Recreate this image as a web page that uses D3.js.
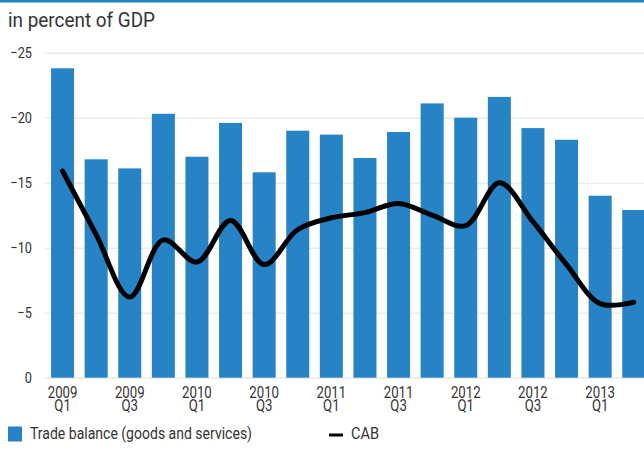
<!DOCTYPE html>
<html>
<head>
<meta charset="utf-8">
<script src="https://cdn.jsdelivr.net/npm/d3@7"></script>
<style>
  html, body { margin: 0; padding: 0; background: #fff; }
  #chart { width: 644px; height: 449px; }
  text { fill: #333; }
  .title { font-family: Roboto, "Liberation Sans", sans-serif; font-size: 20px; }
  .tick text { font-family: Roboto, "Liberation Sans", sans-serif; fill: #333; }
  .y-axis .tick text { font-size: 15.5px; }
  .x-axis .tick text { font-size: 16.5px; }
  .legend { font-family: Roboto, "Liberation Sans", sans-serif; font-size: 16px; }
</style>
</head>
<body>
<div id="chart"></div>
<script>
/* Trade balance bars with CAB line, quarterly, in percent of GDP. */

var quarters = ["2009Q1", "2009Q2", "2009Q3", "2009Q4", "2010Q1", "2010Q2", "2010Q3", "2010Q4",
  "2011Q1", "2011Q2", "2011Q3", "2011Q4", "2012Q1", "2012Q2", "2012Q3", "2012Q4", "2013Q1", "2013Q2"];
var tickLabels = ["2009|Q1", "", "2009|Q3", "", "2010|Q1", "", "2010|Q3", "",
  "2011|Q1", "", "2011|Q3", "", "2012|Q1", "", "2012|Q3", "", "2013|Q1", ""];
var tradeBalance = [-23.8, -16.8, -16.1, -20.3, -17.0, -19.6, -15.8, -19.0,
  -18.7, -16.9, -18.9, -21.1, -20.0, -21.6, -19.2, -18.3, -14.0, -12.9];
var cab = [-15.9, -11.0, -6.2, -10.6, -8.9, -12.1, -8.7, -11.4,
  -12.3, -12.7, -13.4, -12.5, -11.7, -15.0, -12.0, -8.7, -5.7, -5.8];
var yTicks = [0, -5, -10, -15, -20, -25];

var blue = "#2583c6";
var width = 644, height = 449;
var narrow = 0.82;

var svg = d3.select("#chart").append("svg")
  .attr("width", width).attr("height", height)
  .attr("viewBox", "0 0 " + width + " " + height);

// top rule
svg.append("rect").attr("x", 0).attr("y", 0).attr("width", width).attr("height", 2.5).attr("fill", blue);

svg.append("text").attr("class", "title").attr("x", 8).attr("y", 27)
  .attr("textLength", 147).attr("lengthAdjust", "spacingAndGlyphs").text("in percent of GDP");

var x = d3.scaleBand().domain(quarters).range([45, 651.3]).paddingInner(0.315).paddingOuter(0.18);
var y = d3.scaleLinear().domain([0, -25]).range([377.7, 52.7]);

// grid + y labels
var yAxis = svg.append("g").attr("class", "y-axis").attr("transform", "translate(45,0)")
  .call(d3.axisLeft(y).tickValues(yTicks).tickSize(-(width - 45)).tickPadding(13).tickFormat(d3.format("d")));
yAxis.select(".domain").remove();
yAxis.selectAll(".tick line").attr("stroke", "#ebebeb").attr("stroke-width", 1.5);
yAxis.selectAll(".tick text").attr("x", -13 / narrow).attr("transform", "scale(" + narrow + ",1)");

// bars
svg.append("g").selectAll("rect").data(quarters).join("rect")
  .attr("x", function (d) { return x(d); })
  .attr("y", function (d, i) { return y(tradeBalance[i]); })
  .attr("width", x.bandwidth())
  .attr("height", function (d, i) { return y(0) - y(tradeBalance[i]); })
  .attr("fill", blue);

// x labels, two lines each
var xAxis = svg.append("g").attr("class", "x-axis").attr("transform", "translate(0," + y(0) + ")")
  .call(d3.axisBottom(x).tickSize(0).tickPadding(0).tickFormat(function (d, i) { return tickLabels[i]; }));
xAxis.select(".domain").remove();
xAxis.selectAll(".tick text").each(function (d, i) {
  var t = d3.select(this), parts = tickLabels[i].split("|");
  t.text(null).attr("y", 0).attr("dy", null).attr("transform", "scale(0.8,1)");
  if (!tickLabels[i]) return;
  t.append("tspan").attr("x", 0).attr("y", 20.5).text(parts[0]);
  t.append("tspan").attr("x", 0).attr("y", 33.5).text(parts[1]);
});

// CAB line
var line = d3.line()
  .x(function (d, i) { return x(quarters[i]) + x.bandwidth() / 2; })
  .y(function (d) { return y(d); })
  .curve(d3.curveCatmullRom.alpha(0.5));
svg.append("path").datum(cab)
  .attr("d", line)
  .attr("fill", "none").attr("stroke", "#000").attr("stroke-width", 5)
  .attr("stroke-linecap", "round").attr("stroke-linejoin", "round");

// legend
var lg = svg.append("g");
lg.append("rect").attr("x", 8).attr("y", 426.5).attr("width", 14).attr("height", 15).attr("fill", blue);
lg.append("text").attr("class", "legend").attr("x", 30).attr("y", 439.3)
  .attr("textLength", 222).attr("lengthAdjust", "spacingAndGlyphs").text("Trade balance (goods and services)");
lg.append("line").attr("x1", 329).attr("x2", 343).attr("y1", 435).attr("y2", 435)
  .attr("stroke", "#000").attr("stroke-width", 3);
lg.append("text").attr("class", "legend").attr("x", 351).attr("y", 439.3)
  .attr("textLength", 28).attr("lengthAdjust", "spacingAndGlyphs").text("CAB");
</script>
</body>
</html>
